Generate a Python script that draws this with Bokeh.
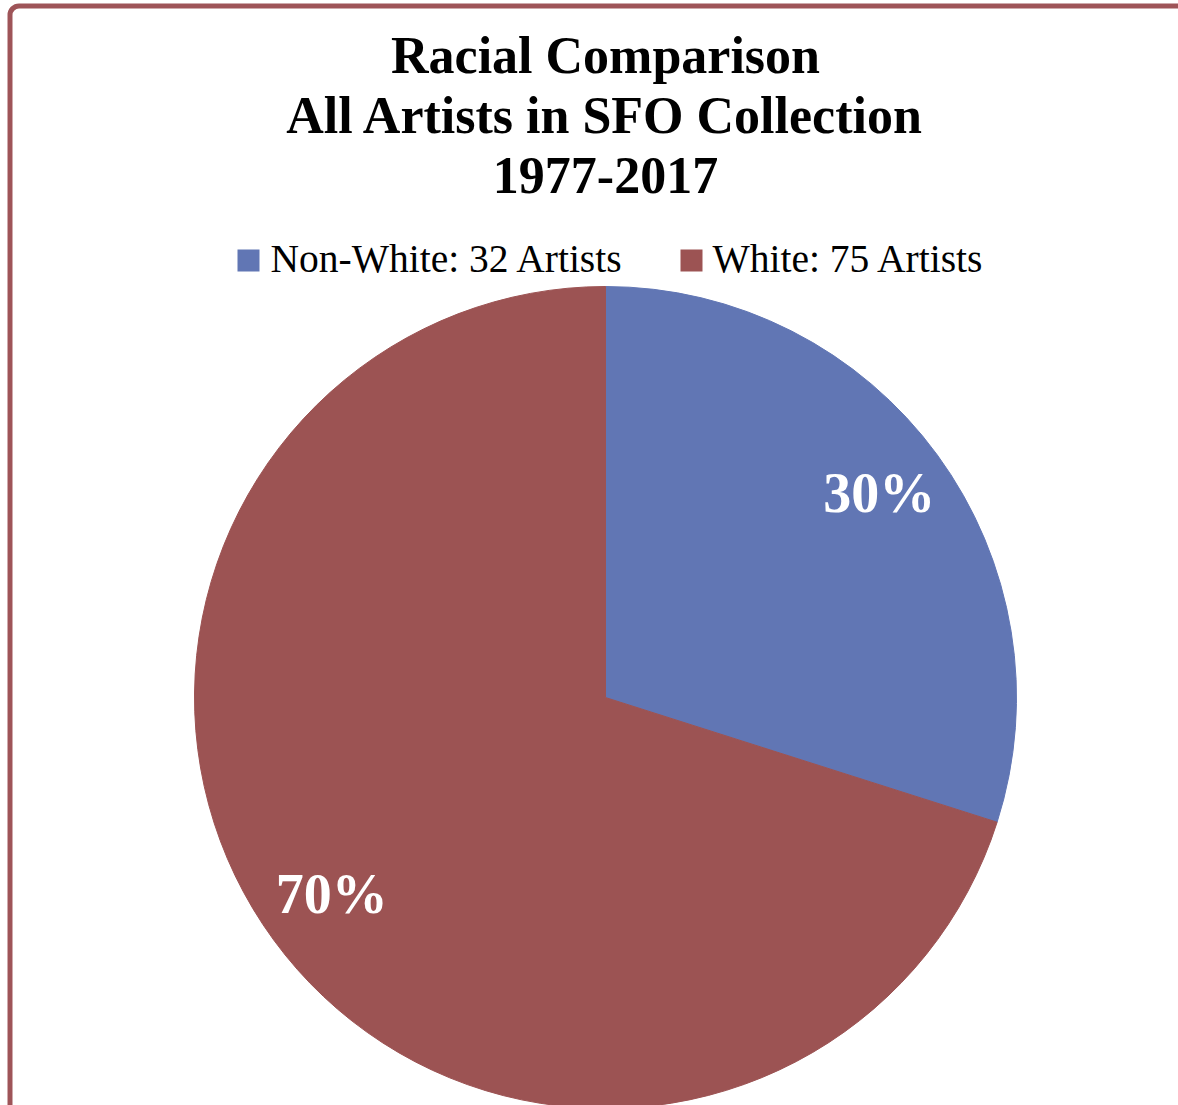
import math
from bokeh.plotting import figure
from bokeh.models import Range1d, BoxAnnotation, ColumnDataSource
from bokeh.core.properties import value
from bokeh.embed import file_html
from bokeh.resources import INLINE

# ---- data ----
categories = ["Non-White", "White"]
counts = [32, 75]
legend_labels = ["Non-White: 32 Artists", "White: 75 Artists"]
colors = ["#6176B4", "#9C5353"]
title_lines = ["Racial Comparison", "All Artists in SFO Collection", "1977-2017"]

# ---- layout (page pixel coordinates, y measured from top of window) ----
W, H = 1178, 1105
def Y(py):
    return H - py

cx, cy, R = 605, Y(697), 411
FONT = "Liberation Serif"

p = figure(width=W, height=H, output_backend="svg", toolbar_location=None,
           x_range=Range1d(0, W), y_range=Range1d(0, H),
           x_axis_type=None, y_axis_type=None, min_border=0,
           background_fill_color="white", border_fill_color="white")
p.grid.visible = False
p.outline_line_color = None

# wedges: start at top, go clockwise
total = sum(counts)
starts, ends, mids, pcts = [], [], [], []
acc = 0.0
for c in counts:
    a0 = math.pi / 2 - 2 * math.pi * acc / total
    a1 = math.pi / 2 - 2 * math.pi * (acc + c) / total
    starts.append(a1)
    ends.append(a0)
    mids.append((a0 + a1) / 2)
    pcts.append(f"{round(100 * c / total)}%")
    acc += c

src = ColumnDataSource(dict(cat=categories, start=starts, end=ends, color=colors,
                            x=[cx] * len(counts), y=[cy] * len(counts)))
p.wedge(x="x", y="y", radius=R, start_angle="start", end_angle="end",
        fill_color="color", line_color="color", line_width=1, source=src)

# percentage labels
lr = 0.825 * R
p.text(x=[cx + lr * math.cos(m) for m in mids], y=[cy + lr * math.sin(m) + 4 for m in mids],
       text=pcts, text_color="white", text_font=value(FONT), text_font_style="bold",
       text_font_size="56px", text_align="center", text_baseline="middle")

# title
p.text(x=[605] * 3, y=[Y(55), Y(115), Y(175)], text=title_lines,
       text_font=value(FONT), text_font_style="bold", text_font_size="52px",
       text_align="center", text_baseline="middle", text_color="black")

# legend
sq_x = [248, 691]
tx_x = [270, 712]
p.scatter(x=sq_x, y=[Y(260)] * 2, marker="square", size=22,
          fill_color=colors, line_color=None)
p.text(x=tx_x, y=[Y(258)] * 2, text=legend_labels, text_font=value(FONT),
       text_font_size="39.5px", text_align="left", text_baseline="middle",
       text_color="black")

# chart-area border (only top and left edges visible)
p.add_layout(BoxAnnotation(left=9.5, right=1400, top=Y(5.5), bottom=-300,
                           fill_alpha=0, line_alpha=1, line_color="#9E5458",
                           line_width=5, border_radius=9))

open("out.html", "w").write(file_html(p, INLINE))
